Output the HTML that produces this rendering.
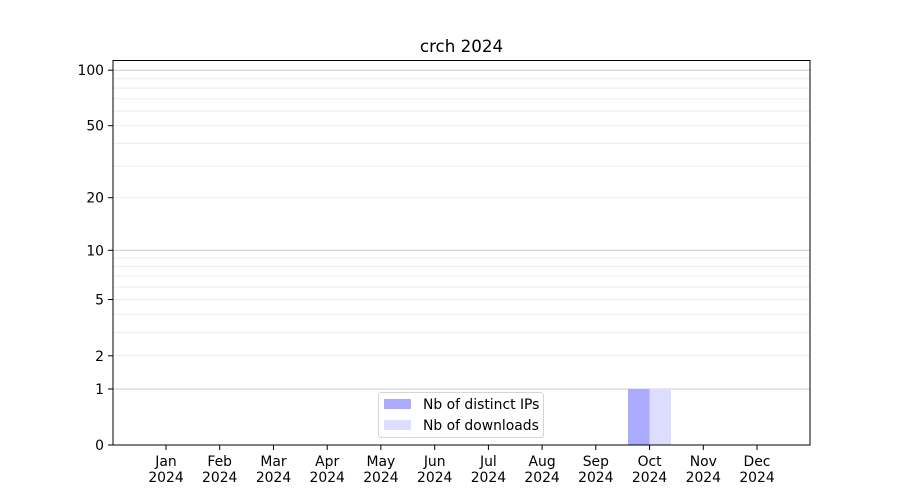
<!DOCTYPE html>
<html><head><meta charset="utf-8"><style>body{margin:0;background:#fff}svg{display:block}text{font-family:"DejaVu Sans","Liberation Sans",sans-serif;font-size:13.9px;fill:#000}</style></head>
<body>
<svg width="900" height="500" viewBox="0 0 900 500" xmlns="http://www.w3.org/2000/svg">
<rect width="900" height="500" fill="#fff"/>
<g stroke="#ebebeb" stroke-width="1">
<line x1="113" x2="810" y1="355.8" y2="355.8"/>
<line x1="113" x2="810" y1="332.4" y2="332.4"/>
<line x1="113" x2="810" y1="314.3" y2="314.3"/>
<line x1="113" x2="810" y1="299.5" y2="299.5"/>
<line x1="113" x2="810" y1="287" y2="287"/>
<line x1="113" x2="810" y1="276.1" y2="276.1"/>
<line x1="113" x2="810" y1="266.6" y2="266.6"/>
<line x1="113" x2="810" y1="258" y2="258"/>
<line x1="113" x2="810" y1="197.7" y2="197.7"/>
<line x1="113" x2="810" y1="166.1" y2="166.1"/>
<line x1="113" x2="810" y1="143.4" y2="143.4"/>
<line x1="113" x2="810" y1="125.7" y2="125.7"/>
<line x1="113" x2="810" y1="111.1" y2="111.1"/>
<line x1="113" x2="810" y1="98.8" y2="98.8"/>
<line x1="113" x2="810" y1="88.1" y2="88.1"/>
<line x1="113" x2="810" y1="78.7" y2="78.7"/>
</g>
<g stroke="#cccccc" stroke-width="1">
<line x1="113" x2="810" y1="389" y2="389"/>
<line x1="113" x2="810" y1="250.3" y2="250.3"/>
<line x1="113" x2="810" y1="70.2" y2="70.2"/>
</g>
<rect x="628" y="389" width="21.5" height="56" fill="#aaaaff"/>
<rect x="649.5" y="389" width="21.5" height="56" fill="#ddddff"/>
<rect x="113" y="60.5" width="697" height="384.5" fill="none" stroke="#000" stroke-width="1"/>
<g stroke="#000" stroke-width="1">
<line x1="108" x2="113" y1="445" y2="445"/>
<line x1="108" x2="113" y1="389" y2="389"/>
<line x1="108" x2="113" y1="355.8" y2="355.8"/>
<line x1="108" x2="113" y1="299.5" y2="299.5"/>
<line x1="108" x2="113" y1="250.3" y2="250.3"/>
<line x1="108" x2="113" y1="197.7" y2="197.7"/>
<line x1="108" x2="113" y1="125.7" y2="125.7"/>
<line x1="108" x2="113" y1="70.2" y2="70.2"/>
<line x1="166" x2="166" y1="445" y2="450"/>
<line x1="219.7" x2="219.7" y1="445" y2="450"/>
<line x1="273.5" x2="273.5" y1="445" y2="450"/>
<line x1="327.2" x2="327.2" y1="445" y2="450"/>
<line x1="380.9" x2="380.9" y1="445" y2="450"/>
<line x1="434.7" x2="434.7" y1="445" y2="450"/>
<line x1="488.4" x2="488.4" y1="445" y2="450"/>
<line x1="542.1" x2="542.1" y1="445" y2="450"/>
<line x1="595.8" x2="595.8" y1="445" y2="450"/>
<line x1="649.6" x2="649.6" y1="445" y2="450"/>
<line x1="703.3" x2="703.3" y1="445" y2="450"/>
<line x1="757" x2="757" y1="445" y2="450"/>
</g>
<g text-anchor="end">
<text x="104" y="450">0</text>
<text x="104" y="394">1</text>
<text x="104" y="360.8">2</text>
<text x="104" y="304.5">5</text>
<text x="104" y="255.3">10</text>
<text x="104" y="202.7">20</text>
<text x="104" y="130.7">50</text>
<text x="104" y="75.2">100</text>
</g>
<g text-anchor="middle">
<text x="166" y="466">Jan</text><text x="166" y="482">2024</text>
<text x="219.7" y="466">Feb</text><text x="219.7" y="482">2024</text>
<text x="273.5" y="466">Mar</text><text x="273.5" y="482">2024</text>
<text x="327.2" y="466">Apr</text><text x="327.2" y="482">2024</text>
<text x="380.9" y="466">May</text><text x="380.9" y="482">2024</text>
<text x="434.7" y="466">Jun</text><text x="434.7" y="482">2024</text>
<text x="488.4" y="466">Jul</text><text x="488.4" y="482">2024</text>
<text x="542.1" y="466">Aug</text><text x="542.1" y="482">2024</text>
<text x="595.8" y="466">Sep</text><text x="595.8" y="482">2024</text>
<text x="649.6" y="466">Oct</text><text x="649.6" y="482">2024</text>
<text x="703.3" y="466">Nov</text><text x="703.3" y="482">2024</text>
<text x="757" y="466">Dec</text><text x="757" y="482">2024</text>
<text x="461.5" y="52" style="font-size:16.7px">crch 2024</text>
</g>
<rect x="378.5" y="392.5" width="165" height="45" rx="3" fill="#fff" fill-opacity="0.8" stroke="#d5d5d5"/>
<rect x="384" y="399" width="27" height="10" fill="#aaaaff"/>
<rect x="384" y="420" width="27" height="10" fill="#ddddff"/>
<text x="423" y="409">Nb of distinct IPs</text>
<text x="423" y="430">Nb of downloads</text>
</svg>
</body></html>
